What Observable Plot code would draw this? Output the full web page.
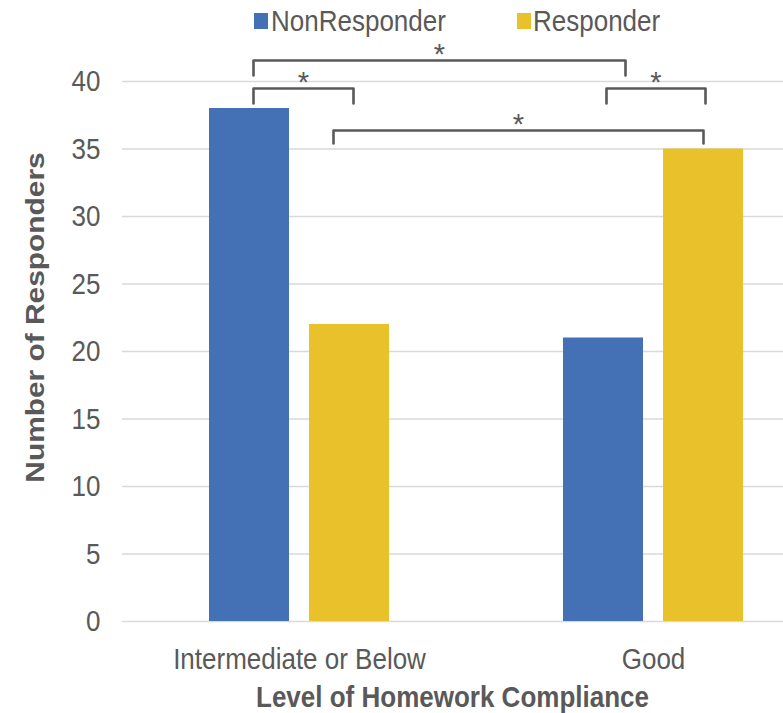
<!DOCTYPE html>
<html><head><meta charset="utf-8">
<script src="https://cdn.jsdelivr.net/npm/d3@7"></script>
<script src="https://cdn.jsdelivr.net/npm/@observablehq/plot@0.6"></script>
<style>
html,body{margin:0;padding:0;background:#fff;}
#wrap{position:relative;width:783px;height:713px;overflow:hidden;background:#fff;
  font-family:"Liberation Sans",Arial,sans-serif;color:#595959;}
#legend{position:absolute;left:0;top:0;width:783px;height:30px;z-index:2;}
#legend .sw{position:absolute;top:13px;width:14px;height:16px;}
#legend .lt{position:absolute;top:10px;height:22px;line-height:22px;font-size:26px;white-space:nowrap;
  transform:scaleY(1.15);transform-origin:center center;}
#chart{position:absolute;left:0;top:30px;width:783px;height:650px;overflow:hidden;z-index:1;}
#chart svg{max-width:none !important;}
#xtitle{position:absolute;left:122px;top:680px;width:661px;height:34px;line-height:34px;text-align:center;
  font-size:26px;font-weight:bold;white-space:nowrap;transform:scaleY(1.15);transform-origin:center center;}
</style></head><body>
<div id="wrap">
  <div id="legend"></div>
  <div id="chart"></div>
  <div id="xtitle"></div>
</div>
<script>
// ---- data ----
const categories = ["Intermediate or Below", "Good"];
const seriesNames = ["NonResponder", "Responder"];
const nonResponderValues = [38, 21];
const responderValues = [22, 35];
const yTicks = [0, 5, 10, 15, 20, 25, 30, 35, 40];
const yLabel = "Number of Responders";
const xLabel = "Level of Homework Compliance";
const comparisons = [
  {a: ["Intermediate or Below", "NonResponder"], b: ["Good", "NonResponder"], mark: "*"},
  {a: ["Intermediate or Below", "NonResponder"], b: ["Intermediate or Below", "Responder"], mark: "*"},
  {a: ["Good", "NonResponder"], b: ["Good", "Responder"], mark: "*"},
  {a: ["Intermediate or Below", "Responder"], b: ["Good", "Responder"], mark: "*"}
];

// ---- styles / layout ----
const seriesColors = ["#4470B6", "#E8C12B"];
const textColor = "#595959";
const font = '"Liberation Sans",Arial,sans-serif';
const groupWidthPx = 354;
const seriesOffset = {NonResponder: -50 / groupWidthPx, Responder: 50 / groupWidthPx};
const halfBar = 40 / groupWidthPx;
const bracketLayout = [
  {top: 41.56, foot: 40.44, shiftA: 4, shiftB: 22},
  {top: 39.48, foot: 38.37, shiftA: 4, shiftB: 4},
  {top: 39.48, foot: 38.37, shiftA: 3, shiftB: 2},
  {top: 36.37, foot: 35.41, shiftA: -16, shiftB: 0}
];

// ---- legend / title (HTML) ----
const legend = document.getElementById("legend");
const legendPos = [{sw: 254, tx: 271}, {sw: 517, tx: 533}];
seriesNames.forEach((s, i) => {
  const sw = document.createElement("div");
  sw.className = "sw"; sw.style.left = legendPos[i].sw + "px"; sw.style.background = seriesColors[i];
  const t = document.createElement("div");
  t.className = "lt"; t.style.left = legendPos[i].tx + "px"; t.textContent = s;
  legend.append(sw, t);
});
document.getElementById("xtitle").textContent = xLabel;

// ---- build tables ----
const rows = categories.flatMap((c, i) => seriesNames.map((s, j) => ({
  category: c, idx: i, series: s, value: (j === 0 ? nonResponderValues : responderValues)[i]
})));
const barCenter = (cat, ser) => categories.indexOf(cat) + seriesOffset[ser];
const bracketPts = [];
const stars = [];
comparisons.forEach((cmp, k) => {
  const L = bracketLayout[k];
  const xa = barCenter(...cmp.a) + L.shiftA / groupWidthPx;
  const xb = barCenter(...cmp.b) + L.shiftB / groupWidthPx;
  bracketPts.push({id: k, x: xa, y: L.foot}, {id: k, x: xa, y: L.top}, {id: k, x: xb, y: L.top}, {id: k, x: xb, y: L.foot});
  stars.push({x: (xa + xb) / 2, y: L.top, text: cmp.mark});
});

const chart = Plot.plot({
  width: 834,
  height: 650,
  marginLeft: 122,
  marginRight: 0,
  marginTop: 51,
  marginBottom: 59,
  style: {fontFamily: font, color: textColor, background: "none", overflow: "visible", maxWidth: "none"},
  x: {domain: [-0.5, 1.5], range: [122, 830]},
  y: {domain: [0, 40]},
  color: {domain: seriesNames, range: seriesColors},
  marks: [
    Plot.ruleY(yTicks, {stroke: "#d9d9d9", strokeWidth: 1.3}),
    Plot.rectY(rows, {
      x1: d => d.idx + seriesOffset[d.series] - halfBar,
      x2: d => d.idx + seriesOffset[d.series] + halfBar,
      y: "value",
      fill: "series"
    }),
    Plot.axisY({ticks: yTicks, tickSize: 0, tickPadding: 22, fontSize: 26, label: null, fill: textColor}),
    Plot.axisX({ticks: [0, 1], tickFormat: i => categories[i], tickSize: 0, tickPadding: 26, fontSize: 26, label: null, fill: textColor}),
    Plot.line(bracketPts, {x: "x", y: "y", z: "id", stroke: textColor, strokeWidth: 2.6, strokeLinejoin: "round", curve: "linear"}),
    Plot.text(stars, {x: "x", y: "y", text: "text", lineAnchor: "middle", dy: -6, fontSize: 29, fill: textColor}),
    Plot.text([yLabel], {frameAnchor: "left", textAnchor: "middle", lineAnchor: "middle", rotate: -90, dx: -87, dy: -34,
      fontSize: 26, fontWeight: "bold", fill: textColor})
  ]
});
// the reference glyphs are drawn slightly taller than wide: stretch each axis/title text along the page's vertical
d3.select(chart).selectAll("text").each(function () {
  const el = d3.select(this);
  if (el.text() === "*") return;
  let tr = el.attr("transform");
  if (tr == null) {
    const x = +el.attr("x") || 0, y = +el.attr("y") || 0;
    el.attr("transform", `translate(${x},${y}) scale(1,1.15) translate(${-x},${-y})`);
  } else if (/rotate/.test(tr)) {
    el.attr("transform", tr + " scale(1.15,1)");
  } else {
    el.attr("transform", tr + " scale(1,1.15)");
  }
});
document.getElementById("chart").append(chart);
</script>
</body></html>
